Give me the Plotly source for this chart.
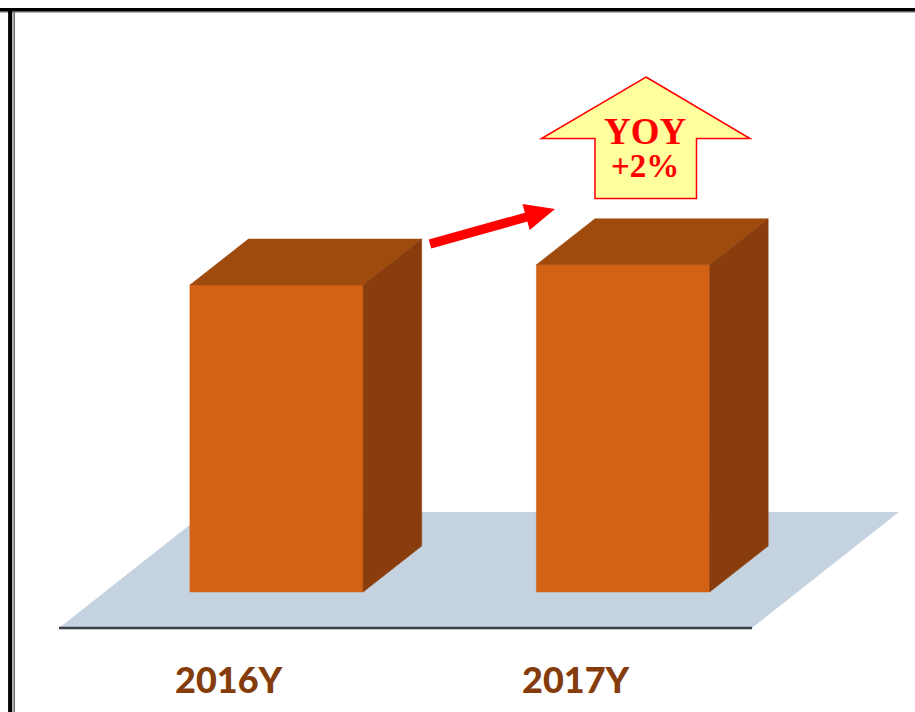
import plotly.graph_objects as go
import math

# ---- data ----
categories = ["2016Y", "2017Y"]
values = [100, 106.6]
yoy_label = ["YOY", "+2%"]

# ---- style / layout constants ----
W, H = 915, 712
FRONT_COLOR = "rgb(212,98,20)"
TOP_COLOR = "rgb(160,75,14)"
SIDE_COLOR = "rgb(137,61,12)"
FLOOR_COLOR = "rgb(197,211,224)"
LABEL_COLOR = "rgb(132,60,12)"
BAR_WIDTH = 0.5          # in category units
DEPTH_X = 0.169          # in category units
DEPTH_Y = 14.98          # in value units

# axis scales (pixel <-> data), plot area covers the whole figure
X0_PX, X_UNIT_PX = 276.5, 346.5   # pixel of category 0, pixels per category
Y0_PX, Y_UNIT_PX = 592.0, 3.07    # pixel of value 0, pixels per value unit
x_range = [(0 - X0_PX) / X_UNIT_PX, (W - X0_PX) / X_UNIT_PX]
y_range = [(Y0_PX - H) / Y_UNIT_PX, (Y0_PX - 0) / Y_UNIT_PX]


def dx(px):
    return (px - X0_PX) / X_UNIT_PX


def dy(py):
    return (Y0_PX - py) / Y_UNIT_PX


def path_from_px(points):
    pts = [f"{dx(x):.5f},{dy(y):.5f}" for x, y in points]
    return "M " + " L ".join(pts) + " Z"


fig = go.Figure()

# ---- 3D bars ----
for i, v in enumerate(values):
    l, r = i - BAR_WIDTH / 2, i + BAR_WIDTH / 2
    # front
    fig.add_trace(go.Scatter(
        x=[l, r, r, l, l], y=[0, 0, v, v, 0], mode="lines", fill="toself",
        fillcolor=FRONT_COLOR, line=dict(color=FRONT_COLOR, width=0.5),
        hoverinfo="skip", showlegend=False))
    # top
    fig.add_trace(go.Scatter(
        x=[l, r, r + DEPTH_X, l + DEPTH_X, l],
        y=[v, v, v + DEPTH_Y, v + DEPTH_Y, v], mode="lines", fill="toself",
        fillcolor=TOP_COLOR, line=dict(color=TOP_COLOR, width=0.5),
        hoverinfo="skip", showlegend=False))
    # side
    fig.add_trace(go.Scatter(
        x=[r, r + DEPTH_X, r + DEPTH_X, r, r],
        y=[0, DEPTH_Y, v + DEPTH_Y, v, 0], mode="lines", fill="toself",
        fillcolor=SIDE_COLOR, line=dict(color=SIDE_COLOR, width=0.5),
        hoverinfo="skip", showlegend=False))

shapes = []
# floor
shapes.append(dict(type="path", xref="x", yref="y", layer="below",
                   path=path_from_px([(59, 628), (752, 628), (899, 512), (206, 512)]),
                   fillcolor=FLOOR_COLOR, line=dict(width=0)))
shapes.append(dict(type="line", xref="x", yref="y", layer="below",
                   x0=dx(59), x1=dx(752), y0=dy(628), y1=dy(628),
                   line=dict(color="rgb(58,62,68)", width=2.5)))

# red arrow (polygon)
sx, sy, tx, ty = 430, 244, 555, 209
L = math.hypot(tx - sx, ty - sy)
ux, uy = (tx - sx) / L, (ty - sy) / L
nx, ny = -uy, ux
hl, hw, sw = 30, 13.5, 4.6
bx, by = tx - hl * ux, ty - hl * uy
arrow_pts = [
    (sx + sw * nx, sy + sw * ny), (bx + sw * nx, by + sw * ny),
    (bx + hw * nx, by + hw * ny), (tx, ty),
    (bx - hw * nx, by - hw * ny), (bx - sw * nx, by - sw * ny),
    (sx - sw * nx, sy - sw * ny)]
shapes.append(dict(type="path", xref="x", yref="y", path=path_from_px(arrow_pts),
                   fillcolor="rgb(255,0,0)", line=dict(width=0)))

# yellow up-arrow
up_pts = [(646, 77), (750, 138.5), (696.5, 138.5), (696.5, 198.5),
          (595, 198.5), (595, 138.5), (541.5, 138.5)]
shapes.append(dict(type="path", xref="x", yref="y", path=path_from_px(up_pts),
                   fillcolor="rgb(255,255,158)", line=dict(color="rgb(255,0,0)", width=1.5)))

# frame
shapes.append(dict(type="line", xref="paper", yref="paper", x0=0, x1=1,
                   y0=1 - 12 / H, y1=1 - 12 / H, line=dict(color="rgb(110,110,110)", width=1.2)))
shapes.append(dict(type="line", xref="paper", yref="paper", x0=0, x1=1,
                   y0=1 - 9.8 / H, y1=1 - 9.8 / H, line=dict(color="black", width=3.6)))
shapes.append(dict(type="line", xref="paper", yref="paper", x0=14.2 / W, x1=14.2 / W,
                   y0=0, y1=1 - 11 / H, line=dict(color="rgb(110,110,110)", width=1.6)))
shapes.append(dict(type="line", xref="paper", yref="paper", x0=10.2 / W, x1=10.2 / W,
                   y0=0, y1=1 - 8 / H, line=dict(color="black", width=4.2)))

annotations = []
for i, c in enumerate(categories):
    annotations.append(dict(
        x=i - 47 / X_UNIT_PX, y=dy(679), xref="x", yref="y", text=c, showarrow=False,
        xanchor="center", yanchor="middle",
        font=dict(family="Lato", size=36, color=LABEL_COLOR, weight=900)))

annotations.append(dict(x=dx(645), y=dy(131), xref="x", yref="y", text=f"<b>{yoy_label[0]}</b>",
                        showarrow=False, xanchor="center", yanchor="middle",
                        height=32, valign="middle",
                        font=dict(family="Liberation Serif", size=37, color="rgb(255,0,0)")))
annotations.append(dict(x=dx(645), y=dy(166), xref="x", yref="y", text=f"<b>{yoy_label[1]}</b>",
                        showarrow=False, xanchor="center", yanchor="middle",
                        height=28, valign="middle",
                        font=dict(family="Liberation Serif", size=33, color="rgb(255,0,0)")))

fig.update_layout(
    width=W, height=H, autosize=False,
    margin=dict(l=0, r=0, t=0, b=0, pad=0),
    paper_bgcolor="white", plot_bgcolor="white",
    xaxis=dict(range=x_range, visible=False, fixedrange=True),
    yaxis=dict(range=y_range, visible=False, fixedrange=True),
    shapes=shapes, annotations=annotations, showlegend=False,
)

fig.write_html("out.html")
